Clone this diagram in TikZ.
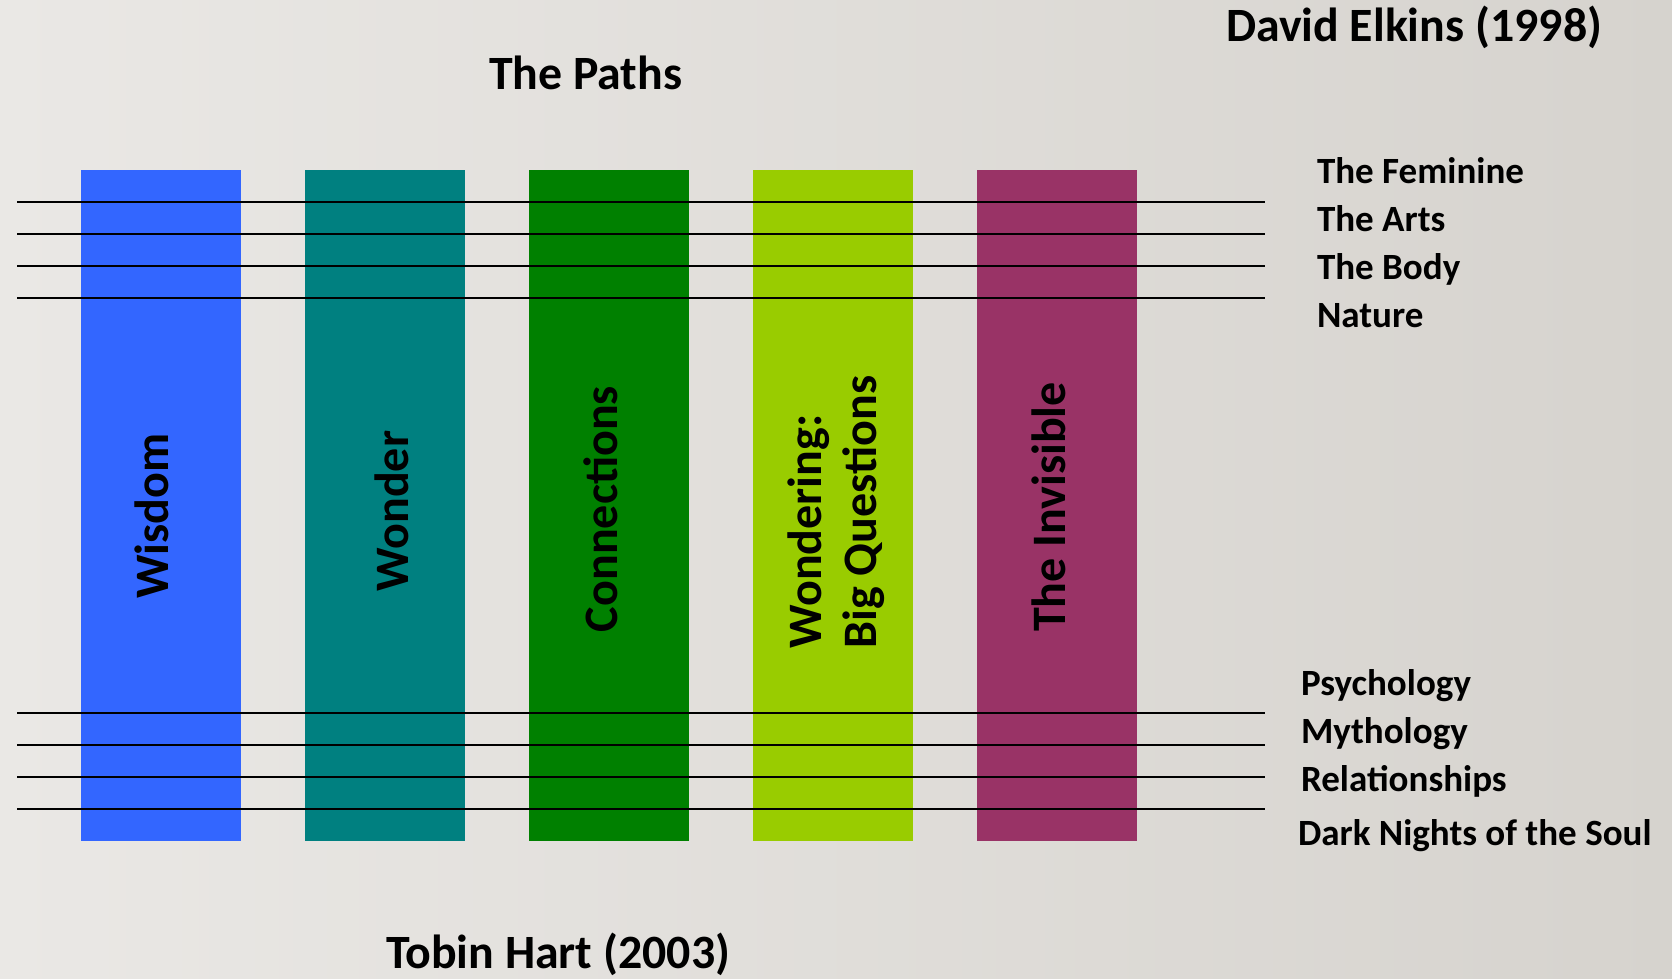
\documentclass[tikz,border=0pt]{standalone}
\usepackage{fontspec}
\setmainfont{Carlito}
\definecolor{bgleft}{HTML}{EAE8E5}
\definecolor{bgright}{HTML}{D6D3CE}
\definecolor{pathblue}{HTML}{3366FF}
\definecolor{pathteal}{HTML}{008080}
\definecolor{pathgreen}{HTML}{008000}
\definecolor{pathlime}{HTML}{99CC00}
\definecolor{pathplum}{HTML}{993366}
\begin{document}
\begin{tikzpicture}[x=0.01cm, y=-0.01cm,
  every node/.style={inner sep=0pt, outer sep=0pt},
  bar/.style={rectangle, draw=none, minimum width=1.6cm, minimum height=6.71cm, anchor=north west},
  bartext/.style={rotate=90, align=left, font=\fontsize{13.66}{15.65}\selectfont\bfseries},
  heading/.style={anchor=base west, font=\fontsize{13.6}{15.6}\selectfont\bfseries},
  sidelabel/.style={anchor=base west, font=\fontsize{10.53}{12.5}\selectfont\bfseries},
  rule/.style={draw=black, line width=0.6pt}
]
% background
\shade[left color=bgleft, right color=bgright] (0,0) rectangle (1672,978);
\useasboundingbox (0,0) rectangle (1672,978);

% headings
\node[heading] (paths) at (489,89) {The Paths};
\node[heading] (elkins) at (1226,41) {David Elkins (1998)};
\node[heading] (hart) at (386,968) {Tobin Hart (2003)};

% the five paths
\node[bar, fill=pathblue]  (b1) at (81,170)  {};
\node[bar, fill=pathteal]  (b2) at (305,170) {};
\node[bar, fill=pathgreen] (b3) at (529,170) {};
\node[bar, fill=pathlime]  (b4) at (753,170) {};
\node[bar, fill=pathplum]  (b5) at (977,170) {};

\node[bartext] (t1) at (152,516) {Wisdom};
\node[bartext] (t2) at (392,511) {Wonder};
\node[bartext] (t3) at (601,509) {Connections};
\node[bartext] (t4) at (836,512) {Wondering:\\Big Questions};
\node[bartext] (t5) at (1049,507) {The Invisible};

% crossing rules
\foreach \yy [count=\i] in {202,234,266,298,713,745,777,809} {
  \coordinate (ls\i) at (17,\yy);
  \coordinate (le\i) at (1265,\yy);
  \draw[rule] (ls\i) -- (le\i);
}

% labels of the rules
\node[sidelabel] (f1) at (1317,183) {The Feminine};
\node[sidelabel] (f2) at (1317,231) {The Arts};
\node[sidelabel] (f3) at (1317,279) {The Body};
\node[sidelabel] (f4) at (1317,327) {Nature};
\node[sidelabel] (g1) at (1301,695) {Psychology};
\node[sidelabel] (g2) at (1301,743) {Mythology};
\node[sidelabel] (g3) at (1301,791) {Relationships};
\node[sidelabel] (g4) at (1298,845) {Dark Nights of the Soul};
\end{tikzpicture}
\end{document}
